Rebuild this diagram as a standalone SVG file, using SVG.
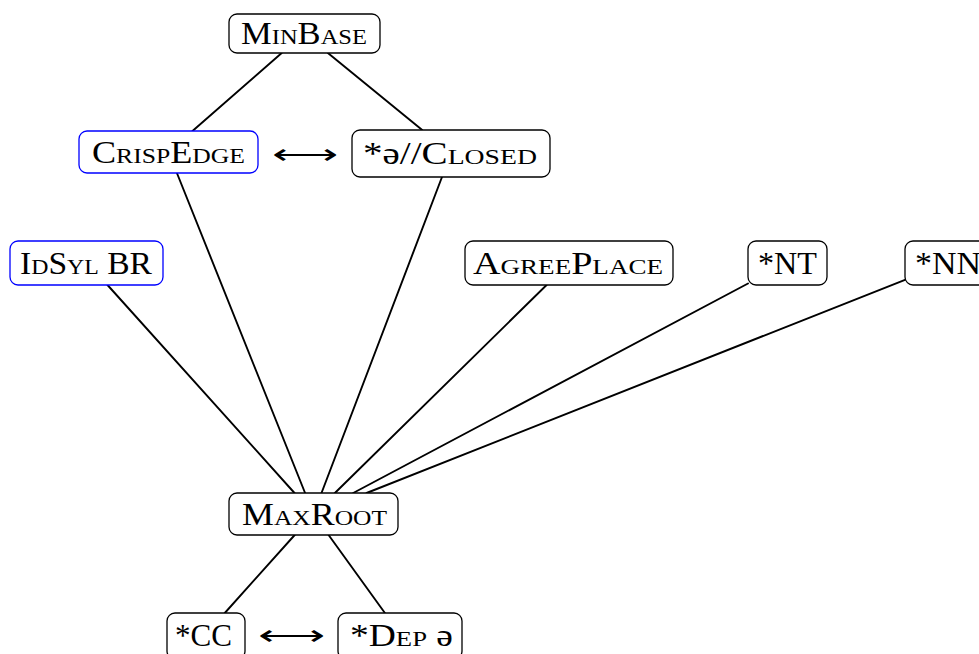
<svg xmlns="http://www.w3.org/2000/svg" width="979" height="654" viewBox="0 0 979 654">
<style>
.box{fill:#fff;stroke:#000;stroke-width:1.3}
.blue{stroke:#0000ff}
.lbl{font-family:"Liberation Serif",serif;font-size:31px;font-variant:small-caps;fill:#000}
.n{font-variant:normal}
.edge{stroke:#000;stroke-width:1.9;fill:none;stroke-linecap:round}
.arr{font-family:"DejaVu Sans",sans-serif;font-size:28px;font-weight:200;fill:#000}
</style>
<rect width="979" height="654" fill="#fff"/>
<g id="connectors">
<line class="edge" x1="281.7" y1="53" x2="192.5" y2="131"/>
<line class="edge" x1="327.9" y1="53" x2="422.2" y2="130"/>
<line class="edge" x1="176.9" y1="173" x2="305.1" y2="493"/>
<line class="edge" x1="442" y1="177" x2="321.5" y2="493"/>
<line class="edge" x1="107.5" y1="285" x2="294.5" y2="493"/>
<line class="edge" x1="546.6" y1="285" x2="334.9" y2="493"/>
<line class="edge" x1="748" y1="283.5" x2="353.2" y2="493"/>
<line class="edge" x1="905" y1="279.8" x2="366.6" y2="493"/>
<line class="edge" x1="294.7" y1="535" x2="224.8" y2="613"/>
<line class="edge" x1="328.6" y1="535" x2="384.9" y2="613"/>
</g>
<g id="arrow-top"><text class="arr" x="272" y="164" textLength="66" lengthAdjust="spacingAndGlyphs">⟷</text></g>
<g id="arrow-bottom"><text class="arr" x="258" y="645" textLength="67" lengthAdjust="spacingAndGlyphs">⟷</text></g>
<g id="MinBase"><rect class="box" x="229" y="14" width="151" height="39" rx="8"/><text class="lbl" x="241" y="44" textLength="126" lengthAdjust="spacingAndGlyphs">MinBase</text></g>
<g id="CrispEdge"><rect class="box blue" x="79" y="131" width="179" height="42" rx="8"/><text class="lbl" x="92" y="163" textLength="153" lengthAdjust="spacingAndGlyphs">CrispEdge</text></g>
<g id="Closed"><rect class="box" x="352" y="130" width="198" height="47" rx="8"/><text class="lbl" x="363" y="164" textLength="174" lengthAdjust="spacingAndGlyphs"><tspan class="n">*ə//</tspan>Closed</text></g>
<g id="IdSylBR"><rect class="box blue" x="10" y="241" width="153" height="44" rx="8"/><text class="lbl" x="20" y="274" textLength="132" lengthAdjust="spacingAndGlyphs">IdSyl BR</text></g>
<g id="AgreePlace"><rect class="box" x="465" y="241" width="208" height="44" rx="8"/><text class="lbl" x="473" y="274" textLength="190" lengthAdjust="spacingAndGlyphs">AgreePlace</text></g>
<g id="NT"><rect class="box" x="748" y="241" width="79" height="44" rx="8"/><text class="lbl" x="758" y="274" textLength="59" lengthAdjust="spacingAndGlyphs">*NT</text></g>
<g id="NN"><rect class="box" x="905" y="241" width="85" height="44" rx="8"/><text class="lbl" x="915" y="274" textLength="66" lengthAdjust="spacingAndGlyphs">*NN</text></g>
<g id="MaxRoot"><rect class="box" x="229" y="493" width="169" height="42" rx="8"/><text class="lbl" x="242" y="525" textLength="145" lengthAdjust="spacingAndGlyphs">MaxRoot</text></g>
<g id="CC"><rect class="box" x="167" y="613" width="78" height="46" rx="8"/><text class="lbl" x="175" y="646" textLength="57" lengthAdjust="spacingAndGlyphs">*CC</text></g>
<g id="Dep"><rect class="box" x="338" y="613" width="124" height="46" rx="8"/><text class="lbl" x="350" y="646" textLength="103" lengthAdjust="spacingAndGlyphs">*Dep <tspan class="n">ə</tspan></text></g>
</svg>
